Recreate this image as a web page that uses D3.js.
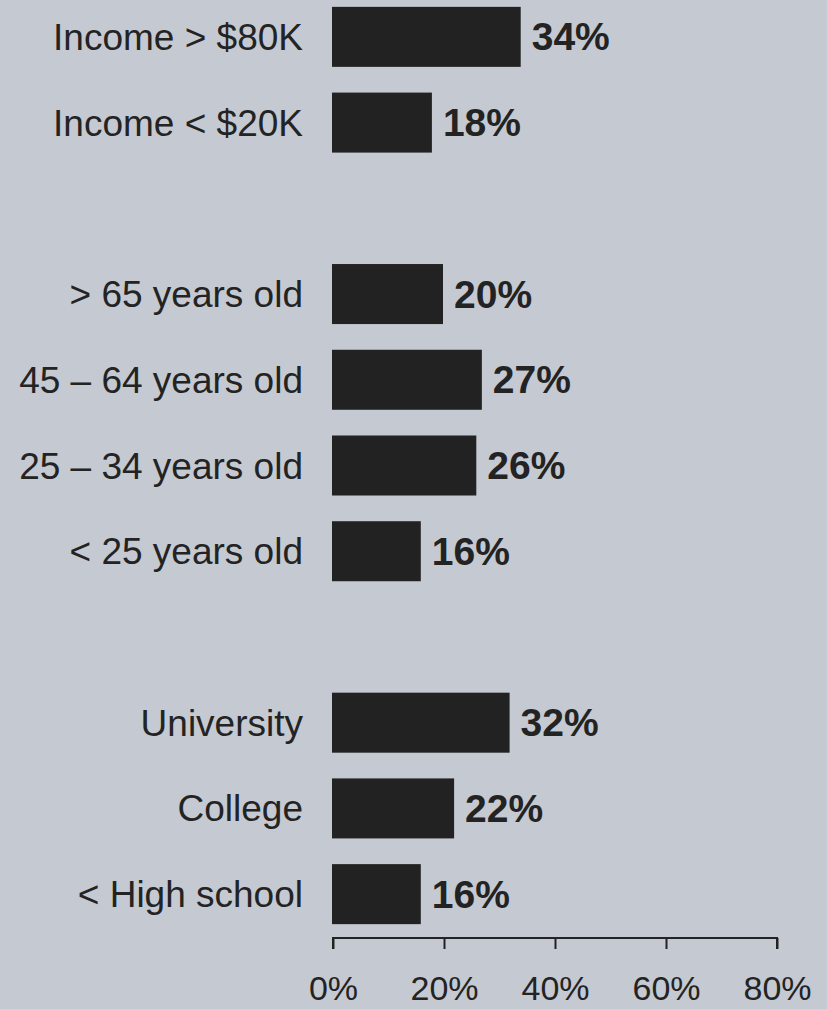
<!DOCTYPE html>
<html>
<head>
<meta charset="utf-8">
<script src="https://cdn.jsdelivr.net/npm/d3@7"></script>
<style>
  html, body { margin: 0; padding: 0; background: #c5c9d1; }
  svg { display: block; }
</style>
</head>
<body>
<svg id="chart" width="827" height="1009"></svg>
<script>
// Share of respondents by income, age and education
const incomeCategories = ["Income > $80K", "Income < $20K"];
const incomeValues = [34, 18];

const ageCategories = ["> 65 years old", "45 \u2013 64 years old", "25 \u2013 34 years old", "< 25 years old"];
const ageValues = [20, 27, 26, 16];

const educationCategories = ["University", "College", "< High school"];
const educationValues = [32, 22, 16];

const tickValues = [0, 20, 40, 60, 80];

// Rows, with an empty slot between each group
const rows = [
  ...incomeCategories.map((c, i) => ({ key: c, value: incomeValues[i] })),
  { key: "spacer-1", value: null },
  ...ageCategories.map((c, i) => ({ key: c, value: ageValues[i] })),
  { key: "spacer-2", value: null },
  ...educationCategories.map((c, i) => ({ key: c, value: educationValues[i] }))
];
const bars = rows.filter(d => d.value !== null);

const svg = d3.select("#chart");
const ink = "#232323";

const x = d3.scaleLinear().domain([0, 80]).range([333, 777]);
const y = d3.scaleBand()
  .domain(rows.map(d => d.key))
  .range([-6, 937])
  .paddingInner(0.3)
  .paddingOuter(0.15);

// Bars
svg.append("g")
  .selectAll("rect")
  .data(bars)
  .join("rect")
  .attr("x", x(0) - 1)
  .attr("y", d => y(d.key))
  .attr("width", d => x(d.value) - x(0))
  .attr("height", y.bandwidth())
  .attr("fill", "#222222");

// Category labels
svg.append("g")
  .selectAll("text")
  .data(bars)
  .join("text")
  .attr("x", 303)
  .attr("y", d => y(d.key) + y.bandwidth() / 2 + 13)
  .attr("text-anchor", "end")
  .attr("font-family", "Liberation Sans, Arial, sans-serif")
  .attr("font-size", 37)
  .attr("fill", ink)
  .text(d => d.key);

// Value labels
svg.append("g")
  .selectAll("text")
  .data(bars)
  .join("text")
  .attr("x", d => x(d.value) + 10)
  .attr("y", d => y(d.key) + y.bandwidth() / 2 + 13.5)
  .attr("font-family", "Liberation Sans, Arial, sans-serif")
  .attr("font-weight", "bold")
  .attr("font-size", 39)
  .attr("fill", ink)
  .text(d => d.value + "%");

// Bottom axis
const axis = d3.axisBottom(x)
  .tickValues(tickValues)
  .tickSize(11)
  .tickPadding(27)
  .tickFormat(d => d + "%");

const gAxis = svg.append("g")
  .attr("transform", "translate(0,938)")
  .call(axis);

gAxis.select(".domain")
  .attr("d", `M${x(0)},11V0H${x(80)}V11`)
  .attr("stroke", ink)
  .attr("stroke-width", 2);
gAxis.selectAll(".tick line")
  .attr("stroke", ink)
  .attr("stroke-width", 2);
gAxis.selectAll(".tick text")
  .attr("font-family", "Liberation Sans, Arial, sans-serif")
  .attr("font-size", 34)
  .attr("fill", ink)
  .attr("dy", "0.71em");
</script>
</body>
</html>
